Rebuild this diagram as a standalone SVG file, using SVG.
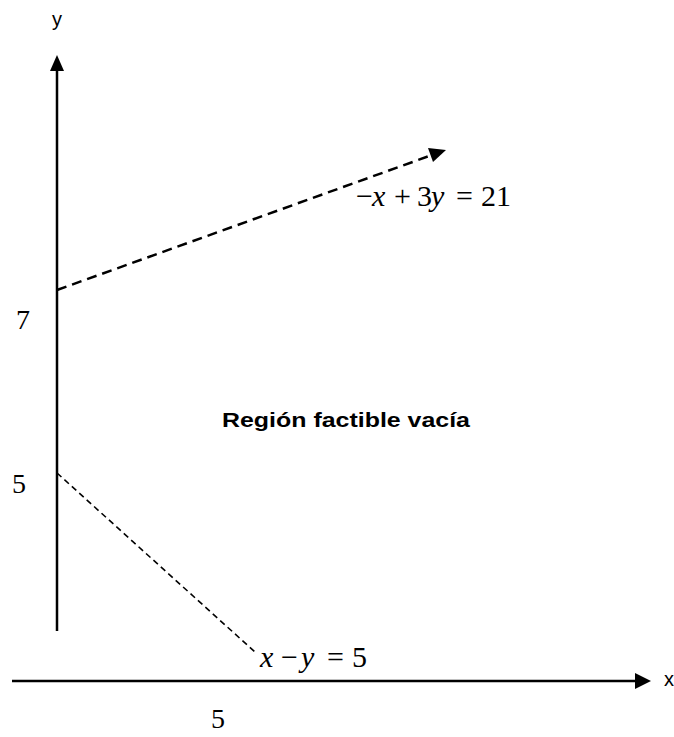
<svg xmlns="http://www.w3.org/2000/svg" width="674" height="737" viewBox="0 0 674 737">
<style>
.axis{stroke:#000;stroke-width:2.5;fill:none}
.dash1{stroke:#000;stroke-width:2.5;stroke-dasharray:10 6;fill:none}
.dash2{stroke:#000;stroke-width:1.6;stroke-dasharray:6 4;fill:none}
.serif{font-family:Liberation Serif, DejaVu Serif, Tinos, serif;fill:#000}
.sansf{font-family:Liberation Sans, Arial, sans-serif;fill:#000}
</style>
<rect width="674" height="737" fill="#fff"/>
<g id="connectors">
<line class="axis" x1="57" y1="631" x2="57" y2="70"/>
<path d="M57,55 L64,71 L50,71 Z" fill="#000"/>
<line class="axis" x1="12" y1="681" x2="636" y2="681"/>
<path d="M651,681 L635,673 L635,689 Z" fill="#000"/>
<line class="dash1" x1="57" y1="290" x2="432" y2="155"/>
<path d="M446,150 L433,162 L428,148 Z" fill="#000"/>
<line class="dash2" x1="57" y1="473" x2="255" y2="652"/>
</g>
<g id="axis-labels" class="sansf" font-size="20">
<text x="52" y="26">y</text>
<text x="664" y="686">x</text>
</g>
<g id="ticks" class="serif" font-size="28">
<text x="16" y="329">7</text>
<text x="12" y="493">5</text>
<text x="211" y="728">5</text>
</g>
<g id="eq1" class="serif" font-size="30">
<text y="206"><tspan x="356">−</tspan><tspan x="372" font-style="italic">x</tspan><tspan x="394">+</tspan><tspan x="417">3</tspan><tspan x="431" font-style="italic">y</tspan><tspan x="456">=</tspan><tspan x="481">21</tspan></text>
</g>
<g id="eq2" class="serif" font-size="30">
<text y="667"><tspan x="260" font-style="italic">x</tspan><tspan x="281">−</tspan><tspan x="301" font-style="italic">y</tspan><tspan x="327">=</tspan><tspan x="352">5</tspan></text>
</g>
<g id="region-label">
<text x="222" y="427" class="sansf" font-size="20" font-weight="bold" textLength="248" lengthAdjust="spacingAndGlyphs">Región factible vacía</text>
</g>
</svg>
